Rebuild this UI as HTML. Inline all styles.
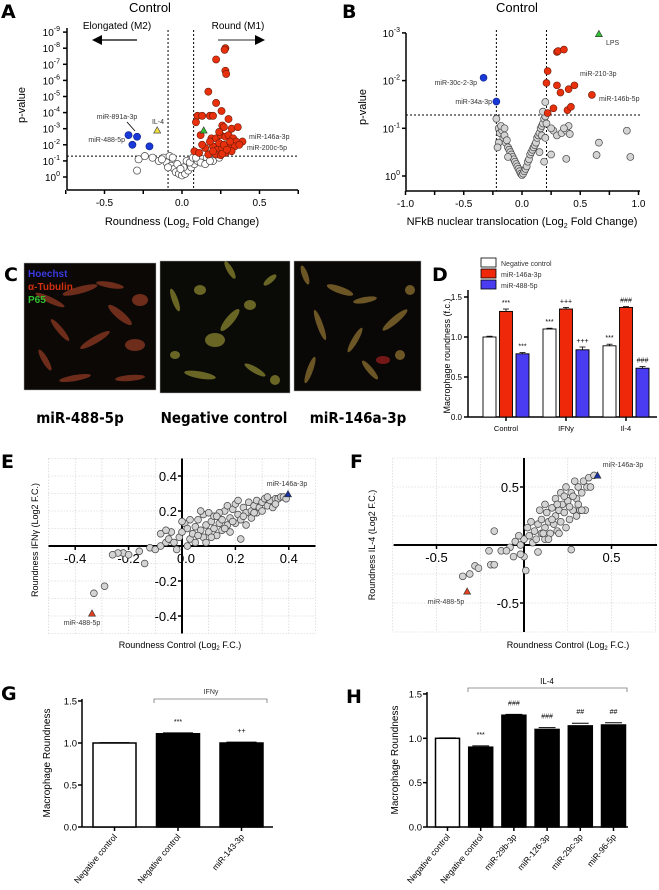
<!DOCTYPE html>
<html><head><meta charset="utf-8">
<style>
html,body{margin:0;padding:0;background:#fff;}
svg{display:block;font-family:"Liberation Sans",sans-serif;}
.pl{font-family:"DejaVu Sans","Liberation Sans",sans-serif;font-weight:bold;font-size:19px;}
.sm{font-size:7px;fill:#333;}
.tk{font-size:10px;}
.ttl{font-size:11px;}
</style></head>
<body>
<svg id="fig" width="659" height="890" viewBox="0 0 659 890" xmlns="http://www.w3.org/2000/svg">
<text class="pl" x="1" y="18">A</text>
<text class="pl" x="342" y="18">B</text>
<text class="pl" x="4" y="281">C</text>
<text class="pl" x="432" y="281">D</text>
<text class="pl" x="1" y="468">E</text>
<text class="pl" x="350" y="468">F</text>
<text class="pl" x="1" y="700">G</text>
<text class="pl" x="346" y="703">H</text>

<text x="150" y="12" font-size="13" text-anchor="middle">Control</text>
<text x="117" y="29" font-size="10" text-anchor="middle">Elongated (M2)</text>
<text x="238" y="29" font-size="10" text-anchor="middle">Round (M1)</text>
<line x1="137" y1="40" x2="100" y2="40" stroke="#000" stroke-width="1.2"/>
<polygon points="92,40 102,35 102,45" fill="#000"/>
<line x1="218" y1="40" x2="257" y2="40" stroke="#555" stroke-width="1.2"/>
<polygon points="265,40 255,35 255,45" fill="#000"/>
<text transform="translate(25,105) rotate(-90)" class="ttl" text-anchor="middle">p-value</text>
<text x="182" y="225" class="ttl" text-anchor="middle">Roundness (Log<tspan font-size="7" dy="3">2</tspan><tspan dy="-3"> Fold Change)</tspan></text>
<text x="117" y="119" class="sm" text-anchor="middle">miR-891a-3p</text>
<line x1="127" y1="122" x2="135" y2="131" stroke="#000" stroke-width="0.8"/>
<text x="125" y="142" class="sm" text-anchor="end">miR-488-5p</text>
<text x="158" y="124" class="sm" text-anchor="middle">IL-4</text>
<text x="249" y="139" class="sm">miR-146a-3p</text>
<text x="247" y="150" class="sm">miR-200c-5p</text>

<text x="517" y="12" font-size="13" text-anchor="middle">Control</text>
<text transform="translate(366,107) rotate(-90)" class="ttl" text-anchor="middle">p-value</text>
<text x="522" y="225" class="ttl" text-anchor="middle">NFkB nuclear translocation (Log<tspan font-size="7" dy="3">2</tspan><tspan dy="-3"> Fold Change)</tspan></text>
<text x="606" y="45" class="sm">LPS</text>
<text x="580" y="76" class="sm">miR-210-3p</text>
<text x="599" y="101" class="sm">miR-146b-5p</text>
<text x="477" y="85" class="sm" text-anchor="end">miR-30c-2-3p</text>
<text x="492" y="104" class="sm" text-anchor="end">miR-34a-3p</text>

<g>
<rect x="24" y="263" width="132" height="127" fill="#0b0806" stroke="#aaa" stroke-width="0.5"/>
<g fill="#b0462a" opacity="0.6">
<ellipse cx="50" cy="300" rx="16" ry="3" transform="rotate(25 50 300)"/>
<ellipse cx="80" cy="290" rx="18" ry="3.5" transform="rotate(-15 80 290)"/>
<ellipse cx="110" cy="285" rx="14" ry="3" transform="rotate(10 110 285)"/>
<ellipse cx="120" cy="315" rx="15" ry="4" transform="rotate(40 120 315)"/>
<ellipse cx="60" cy="330" rx="14" ry="3" transform="rotate(50 60 330)"/>
<ellipse cx="95" cy="340" rx="17" ry="3.5" transform="rotate(-30 95 340)"/>
<ellipse cx="135" cy="345" rx="10" ry="6"/>
<ellipse cx="130" cy="378" rx="15" ry="3" transform="rotate(-5 130 378)"/>
<ellipse cx="75" cy="378" rx="16" ry="3" transform="rotate(-10 75 378)"/>
<ellipse cx="140" cy="300" rx="8" ry="6"/>
<ellipse cx="45" cy="360" rx="12" ry="3" transform="rotate(60 45 360)"/>
</g>
<text x="28" y="277" font-size="10" font-weight="bold" fill="#3a3ae0">Hoechst</text>
<text x="28" y="290" font-size="10" font-weight="bold" fill="#d03010">α-Tubulin</text>
<text x="28" y="303" font-size="10" font-weight="bold" fill="#30c030">P65</text>
</g>
<g>
<rect x="160" y="261" width="130" height="132" fill="#0a0a06" stroke="#aaa" stroke-width="0.5"/>
<g fill="#a8a43a" opacity="0.6">
<ellipse cx="175" cy="300" rx="12" ry="3" transform="rotate(70 175 300)"/>
<ellipse cx="200" cy="290" rx="6" ry="5"/>
<ellipse cx="230" cy="270" rx="10" ry="3" transform="rotate(60 230 270)"/>
<ellipse cx="215" cy="340" rx="10" ry="7"/>
<ellipse cx="230" cy="320" rx="14" ry="4" transform="rotate(-50 230 320)"/>
<ellipse cx="250" cy="305" rx="6" ry="5"/>
<ellipse cx="200" cy="375" rx="16" ry="3.5" transform="rotate(10 200 375)"/>
<ellipse cx="255" cy="370" rx="12" ry="3" transform="rotate(30 255 370)"/>
<ellipse cx="275" cy="380" rx="5" ry="5"/>
<ellipse cx="270" cy="280" rx="8" ry="3" transform="rotate(-40 270 280)"/>
<ellipse cx="175" cy="355" rx="5" ry="4"/>
</g>
</g>
<g>
<rect x="294" y="261" width="127" height="130" fill="#0a0806" stroke="#aaa" stroke-width="0.5"/>
<g fill="#b08a3a" opacity="0.6">
<ellipse cx="340" cy="290" rx="14" ry="3.5" transform="rotate(20 340 290)"/>
<ellipse cx="365" cy="300" rx="12" ry="3" transform="rotate(-10 365 300)"/>
<ellipse cx="395" cy="320" rx="16" ry="3.5" transform="rotate(-40 395 320)"/>
<ellipse cx="320" cy="325" rx="16" ry="3" transform="rotate(70 320 325)"/>
<ellipse cx="355" cy="340" rx="14" ry="3" transform="rotate(-60 355 340)"/>
<ellipse cx="310" cy="370" rx="14" ry="3" transform="rotate(-70 310 370)"/>
<ellipse cx="370" cy="370" rx="12" ry="3" transform="rotate(50 370 370)"/>
<ellipse cx="410" cy="290" rx="5" ry="5"/>
<ellipse cx="400" cy="355" rx="5" ry="5"/>
<ellipse cx="305" cy="275" rx="10" ry="3" transform="rotate(70 305 275)"/>
</g>
<ellipse cx="383" cy="360" rx="7" ry="4" fill="#a02020" opacity="0.7"/>
</g>
<text x="80" y="423" font-size="15" font-weight="bold" text-anchor="middle" font-family="DejaVu Sans Condensed, Liberation Sans, sans-serif">miR-488-5p</text>
<text x="224" y="423" font-size="15" font-weight="bold" text-anchor="middle" font-family="DejaVu Sans Condensed, Liberation Sans, sans-serif">Negative control</text>
<text x="358" y="423" font-size="15" font-weight="bold" text-anchor="middle" font-family="DejaVu Sans Condensed, Liberation Sans, sans-serif">miR-146a-3p</text>

<rect x="481" y="258" width="15" height="9" fill="#fff" stroke="#000" stroke-width="0.8"/>
<rect x="481" y="269" width="15" height="9" fill="#f0280a" stroke="#000" stroke-width="0.8"/>
<rect x="481" y="280" width="15" height="9" fill="#4a3cf0" stroke="#000" stroke-width="0.8"/>
<text x="501" y="266" class="sm">Negative control</text>
<text x="501" y="277" class="sm">miR-146a-3p</text>
<text x="501" y="288" class="sm">miR-488-5p</text>
<text transform="translate(450,356) rotate(-90)" font-size="9" text-anchor="middle">Macrophage roundness (f.c.)</text>

<text transform="translate(38,540) rotate(-90)" font-size="9" text-anchor="middle">Roundness IFNγ (Log2 F.C.)</text>
<text x="180" y="648" font-size="9" text-anchor="middle">Roundness Control (Log<tspan font-size="6" dy="2">2</tspan><tspan dy="-2"> F.C.)</tspan></text>
<text x="287" y="486" class="sm" text-anchor="middle">miR-146a-3p</text>
<text x="82" y="625" class="sm" text-anchor="middle">miR-488-5p</text>
<text transform="translate(375,545) rotate(-90)" font-size="9" text-anchor="middle">Roundness IL-4 (Log2 F.C.)</text>
<text x="568" y="648" font-size="9" text-anchor="middle">Roundness Control (Log<tspan font-size="6" dy="2">2</tspan><tspan dy="-2"> F.C.)</tspan></text>
<text x="623" y="467" class="sm" text-anchor="middle">miR-146a-3p</text>
<text x="446" y="604" class="sm" text-anchor="middle">miR-488-5p</text>

<text transform="translate(50,763) rotate(-90)" font-size="10" text-anchor="middle">Macrophage Roundness</text>
<path d="M154,703 V699 H267 V703" fill="none" stroke="#777" stroke-width="0.8"/>
<text x="211" y="694" class="sm" text-anchor="middle">IFNy</text>
<text transform="translate(398,760) rotate(-90)" font-size="10" text-anchor="middle">Macrophage Roundness</text>
<path d="M468,692 V688 H627 V692" fill="none" stroke="#777" stroke-width="0.8"/>
<text x="547" y="684" font-size="8" text-anchor="middle">IL-4</text>
</svg>

<script>
const aRedX = [0.28,0.275,0.22,0.28,0.285,0.17,0.22,0.255,0.10,0.13,0.18,0.20,0.30,0.09,0.26,0.27,0.32,0.36,0.12,0.19,0.22,0.25,0.28,0.30,0.33,0.35,0.39,0.08,0.15,0.20,0.23,0.26,0.30,0.34,0.37,0.17,0.22,0.25,0.28,0.32,0.13,0.18,0.24,0.27,0.31,0.11,0.20,0.26,0.29,0.24];
const aRedY = [8.0,7.9,7.3,6.6,6.4,5.3,4.6,4.1,3.8,3.8,3.8,3.8,3.6,3.4,3.2,3.1,3.0,3.1,2.6,2.4,2.4,2.6,2.5,2.6,2.4,2.2,2.2,1.6,1.8,1.9,1.7,1.8,1.9,1.9,2.0,1.4,1.4,1.35,1.5,1.6,2.0,2.2,2.1,2.0,2.2,1.5,1.6,1.45,1.7,2.8];
const aWhiteX = [-0.28,-0.24,-0.29,-0.19,-0.15,-0.12,-0.08,-0.10,-0.07,-0.05,-0.04,-0.02,0.00,0.02,0.04,0.06,0.08,0.10,0.13,0.16,0.20,0.24,-0.06,-0.03,0.03,0.05,0.07,0.12,-0.13,0.01,-0.01,0.09,0.15,0.18,-0.09];
const aWhiteY = [1.1,1.3,0.4,1.2,1.0,1.2,1.3,0.9,0.7,0.5,0.3,0.2,0.1,0.2,0.4,0.6,0.8,1.0,1.1,1.2,1.0,1.2,1.2,0.8,1.0,0.9,1.2,0.9,1.1,0.6,0.5,1.2,0.8,1.0,0.6];
const aBlueX = [-0.345,-0.29,-0.32,-0.21];
const aBlueY = [2.6,2.5,2.0,1.9];
const aIL4 = [-0.16,2.9];
const aGreen = [0.14,2.9];
const aTickExp = [0,1,2,3,4,5,6,7,8,9];
const aXTicks = [-0.5,0.0,0.5];

const bRedX = [0.30,0.31,0.36,0.22,0.30,0.45,0.40,0.33,0.21,0.27,0.39,0.42,0.22,0.60];
const bRedY = [2.6,2.62,2.65,2.2,1.9,1.9,1.82,1.75,1.95,1.42,1.38,1.45,1.32,1.7];
const bGreyX = [-0.22,-0.2,-0.19,-0.17,-0.16,-0.15,-0.14,-0.13,-0.12,-0.11,-0.1,-0.09,-0.08,-0.07,-0.06,-0.05,-0.04,-0.03,-0.02,-0.01,0.0,0.01,0.02,0.03,0.04,0.05,0.06,0.07,0.08,0.09,0.1,0.11,0.12,0.13,0.14,0.15,0.16,0.17,0.18,0.19,0.2,0.21,0.2,-0.18,-0.2,-0.21,-0.12,0.15,0.19,0.27,0.30,0.34,0.38,0.41,0.40,0.25,0.36,0.38,0.66,0.64,0.90,0.93,0.25,0.17,-0.15,0.2,0.18];
const bGreyY = [1.2,1.0,0.9,0.95,0.8,0.85,0.7,0.75,0.6,0.55,0.5,0.45,0.4,0.35,0.3,0.25,0.2,0.15,0.1,0.05,0.02,0.05,0.1,0.15,0.2,0.3,0.35,0.45,0.5,0.55,0.6,0.65,0.7,0.8,0.85,0.9,1.0,1.05,1.1,1.2,1.25,1.1,1.55,1.05,0.7,0.6,0.4,0.5,0.3,0.95,0.85,0.9,0.95,0.88,1.05,1.0,1.0,0.36,0.7,0.44,0.95,0.4,0.45,0.85,1.0,0.8,1.35];
const bBlueX = [-0.33,-0.22];
const bBlueY = [2.06,1.56];
const bLPS = [0.66,2.98];
const bTickExp = [0,1,2,3];
const bXTicks = [-1.0,-0.5,0.0,0.5,1.0];

const dGroups = ['Control','IFNy','Il-4'];
const dNeg = [1.00,1.10,0.89];
const d146 = [1.32,1.35,1.37];
const d488 = [0.79,0.84,0.61];
const dNegErr = [0.01,0.01,0.02];
const d146Err = [0.03,0.02,0.01];
const d488Err = [0.015,0.035,0.02];
const dNegStars = ['','***','***'];
const d146Stars = ['***','+++','###'];
const d488Stars = ['***','+++','###'];
const dYTicks = [0.0,0.5,1.0,1.5];

const eX = [-0.33,-0.29,-0.22,-0.24,-0.26,-0.2,-0.14,-0.16,-0.12,-0.1,-0.08,-0.06,-0.05,-0.03,-0.02,-0.01,0,0.01,0.02,0.03,0.04,0.05,0.06,0.07,0.08,0.08,0.09,0.1,0.1,0.11,0.12,0.12,0.13,0.14,0.15,0.15,0.16,0.17,0.18,0.18,0.19,0.2,0.2,0.21,0.22,0.22,0.23,0.24,0.24,0.25,0.26,0.26,0.27,0.28,0.28,0.29,0.3,0.3,0.31,0.32,0.33,0.34,0.35,0.36,0.37,0.38,0.39,0.02,0.05,-0.04,0.03,0.07,0.11,0.14,0.17,0.21,0.06,0.09,0.13,0.16,0.19,0.23,0.27,0.32,0.35,-0.08,-0.06,0.0];
const eY = [-0.27,-0.23,-0.04,-0.04,-0.05,-0.05,-0.1,-0.03,-0.01,-0.02,0.0,0.02,0.04,0.02,-0.02,0.05,0.08,0.13,0.1,0.04,0.07,0.11,0.15,0.09,0.05,0.18,0.12,0.19,0.08,0.14,0.1,0.17,0.06,0.13,0.15,0.09,0.2,0.12,0.16,0.08,0.21,0.13,0.24,0.18,0.04,0.15,0.22,0.19,0.12,0.25,0.2,0.16,0.23,0.26,0.19,0.22,0.25,0.2,0.27,0.23,0.26,0.22,0.27,0.27,0.28,0.28,0.27,0.0,0.02,0.08,0.15,0.2,0.05,0.19,0.23,0.26,0.06,0.02,0.17,0.1,0.14,0.17,0.19,0.28,0.24,0.07,0.09,0.14];
const eTriRed = [-0.337,-0.385];
const eTriBlue = [0.397,0.297];
const eXTicks = [-0.4,-0.2,0.0,0.2,0.4];
const eYTicks = [-0.4,-0.2,0.2,0.4];

const fX = [-0.35,-0.31,-0.28,-0.26,-0.19,-0.17,-0.2,-0.13,-0.08,-0.1,-0.05,-0.02,0,0.01,-0.17,0,0.03,0.05,0.06,0.08,0.08,0.1,0.1,0.12,0.12,0.13,0.14,0.15,0.16,0.17,0.18,0.18,0.19,0.2,0.21,0.21,0.22,0.23,0.24,0.24,0.25,0.26,0.27,0.27,0.28,0.29,0.3,0.3,0.31,0.32,0.33,0.34,0.35,0.36,0.37,0.38,0.4,0.02,0.04,0.07,0.09,0.11,0.14,0.16,0.19,-0.03,-0.06,0.2,0.23,0.26,0.28,0.31,0.33,0.12,-0.02];
const fY = [-0.27,-0.25,-0.18,-0.2,-0.17,-0.17,-0.05,-0.05,-0.02,-0.05,0.03,0.0,-0.1,-0.22,0.12,0.05,0.08,0.02,0.12,0.18,-0.06,0.1,0.22,0.15,0.05,0.28,0.2,0.1,0.32,0.18,0.25,0.4,0.12,0.3,0.45,0.2,0.35,0.28,0.5,0.15,0.38,0.22,0.45,-0.04,0.3,0.55,0.4,0.25,0.5,0.3,0.45,0.55,0.3,0.5,0.58,0.5,0.6,0.15,0.2,0.05,0.3,0.1,0.05,0.22,0.35,0.08,-0.1,0.1,0.42,0.33,0.42,0.35,0.3,0.35,-0.08];
const fTriRed = [-0.325,-0.40];
const fTriBlue = [0.42,0.60];
const fXTicks = [-0.5,0.5];
const fYTicks = [-0.5,0.5];

const gCats = ['Negative control','Negative control','miR-143-3p'];
const gVals = [1.00,1.11,1.00];
const gErr = [0.005,0.01,0.01];
const gStars = ['','***','++'];
const gYTicks = [0.0,0.5,1.0,1.5];

const hCats = ['Negative control','Negative control','miR-29b-3p','miR-126-3p','miR-29c-3p','miR-96-5p'];
const hVals = [1.00,0.90,1.26,1.10,1.14,1.15];
const hErr = [0.005,0.015,0.01,0.02,0.03,0.025];
const hStars = ['','***','###','###','##','##'];
const hYTicks = [0.0,0.5,1.0,1.5];

const NS = 'http://www.w3.org/2000/svg';
const svg = document.getElementById('fig');
function mk(tag, attrs, name, txt){
  const e = document.createElementNS(NS, tag);
  for (const k in attrs) e.setAttribute(k, attrs[k]);
  
  
  if (txt !== undefined) e.textContent = txt;
  svg.appendChild(e);
  return e;
}
function line(x1,y1,x2,y2,name,st){ return mk('line',Object.assign({x1:x1,y1:y1,x2:x2,y2:y2,stroke:'#000','stroke-width':1.5},st||{}),name); }
function tri(cx,cy,s,fill,name){ return mk('polygon',{points:`${cx},${cy-s} ${cx-s},${cy+s*0.8} ${cx+s},${cy+s*0.8}`,fill:fill,stroke:'#333','stroke-width':0.6},name); }
function sup(x,y,n,name,anchor){
  const t = mk('text',{x:x,y:y,'font-size':10,'text-anchor':anchor||'end'},name);
  t.appendChild(document.createTextNode('10'));
  const s = document.createElementNS(NS,'tspan');
  s.setAttribute('font-size','7'); s.setAttribute('dy','-5');
  s.textContent = n===0 ? '0' : '-'+n;
  t.appendChild(s);
}

const ax = v => 182 + v*155;
const ay = v => 177 - v*16.1;
line(ax(-0.09),30,ax(-0.09),190,'a-threshold-left',{'stroke-dasharray':'2,2','stroke-width':1});
line(ax(0.075),30,ax(0.075),190,'a-threshold-right',{'stroke-dasharray':'2,2','stroke-width':1});
line(67,ay(1.3),298,ay(1.3),'a-threshold-p',{'stroke-dasharray':'2,2','stroke-width':1});
line(67,28,67,190,'a-y-axis');
line(67,190,298,190,'a-x-axis');
aTickExp.forEach(n=>{ line(63,ay(n),67,ay(n),'a-y-tick'); sup(60,ay(n)+4,n,'a-y-tick-label'); });
[-0.75,-0.25,0.25,0.75].forEach(v=>line(ax(v),190,ax(v),194,'a-x-minor-tick'));
aXTicks.forEach(v=>{ line(ax(v),190,ax(v),194,'a-x-tick'); mk('text',{x:ax(v),y:206,'font-size':10,'text-anchor':'middle'},'a-x-tick-label',v.toFixed(1)); });
aWhiteX.forEach((v,i)=>mk('circle',{cx:ax(v),cy:ay(aWhiteY[i]),r:3.6,fill:'#fff',stroke:'#444','stroke-width':0.7},'a-point-ns'));
aRedX.forEach((v,i)=>mk('circle',{cx:ax(v),cy:ay(aRedY[i]),r:3.6,fill:'#e8300c',stroke:'#6a1a08','stroke-width':0.6},'a-point-round'));
aBlueX.forEach((v,i)=>mk('circle',{cx:ax(v),cy:ay(aBlueY[i]),r:3.6,fill:'#1838d8',stroke:'#102080','stroke-width':0.6},'a-point-elongated'));
tri(ax(aIL4[0]),ay(aIL4[1]),3.5,'#f0e040','a-il4-triangle');
tri(ax(aGreen[0]),ay(aGreen[1]),3.5,'#30c030','a-positive-triangle');

const bx = v => 522 + v*116.5;
const by = v => 176 - v*47.7;
line(bx(-0.22),30,bx(-0.22),191,'b-threshold-left',{'stroke-dasharray':'2,2','stroke-width':1});
line(bx(0.21),30,bx(0.21),191,'b-threshold-right',{'stroke-dasharray':'2,2','stroke-width':1});
line(406,by(1.28),640,by(1.28),'b-threshold-p',{'stroke-dasharray':'2,2','stroke-width':1});
line(406,33,406,191,'b-y-axis');
line(406,191,640,191,'b-x-axis');
bTickExp.forEach(n=>{ line(402,by(n),406,by(n),'b-y-tick'); sup(400,by(n)+4,n,'b-y-tick-label'); });
[-0.75,-0.25,0.25,0.75].forEach(v=>line(bx(v),191,bx(v),195,'b-x-minor-tick'));
bXTicks.forEach(v=>{ line(bx(v),191,bx(v),195,'b-x-tick'); mk('text',{x:bx(v),y:207,'font-size':10,'text-anchor':'middle'},'b-x-tick-label',v.toFixed(1)); });
bGreyX.forEach((v,i)=>mk('circle',{cx:bx(v),cy:by(bGreyY[i]),r:3.5,fill:'#d4d4d4',stroke:'#444','stroke-width':0.7},'b-point-ns'));
bRedX.forEach((v,i)=>mk('circle',{cx:bx(v),cy:by(bRedY[i]),r:3.5,fill:'#e8300c',stroke:'#6a1a08','stroke-width':0.6},'b-point-up'));
bBlueX.forEach((v,i)=>mk('circle',{cx:bx(v),cy:by(bBlueY[i]),r:3.5,fill:'#1838d8',stroke:'#102080','stroke-width':0.6},'b-point-down'));
tri(bx(bLPS[0]),by(bLPS[1]),3.5,'#30c030','b-lps-triangle');

const dy = v => 417 - v*80;
const dCenter = i => 506 + i*60;
const bw = 13;
line(468,290,468,417,'d-y-axis');
line(468,417,657,417,'d-x-axis');
dYTicks.forEach(v=>{ line(464,dy(v),468,dy(v),'d-y-tick'); mk('text',{x:462,y:dy(v)+3,'font-size':8,'text-anchor':'end'},'d-y-tick-label',v.toFixed(1)); });
dGroups.forEach((g,i)=>{
  const c = dCenter(i);
  line(c,417,c,421,'d-x-tick');
  mk('text',{x:c,y:431,'font-size':7.5,'text-anchor':'middle'},'d-group-label',g);
  const sets = [[dNeg,dNegErr,dNegStars,'#fff',-16.5,'d-bar-negative'],[d146,d146Err,d146Stars,'#f0280a',0,'d-bar-146a'],[d488,d488Err,d488Stars,'#4a3cf0',16.5,'d-bar-488']];
  sets.forEach(s=>{
    const val=s[0][i], err=s[1][i], cx=c+s[4];
    mk('rect',{x:cx-bw/2,y:dy(val),width:bw,height:417-dy(val),fill:s[3],stroke:'#000','stroke-width':0.9},s[5]);
    line(cx,dy(val),cx,dy(val+err),'d-error-bar',{'stroke-width':0.8});
    line(cx-3,dy(val+err),cx+3,dy(val+err),'d-error-cap',{'stroke-width':0.8});
    if (s[2][i]) mk('text',{x:cx,y:dy(val+err)-4,'font-size':7,'text-anchor':'middle'},'d-significance',s[2][i]);
  });
});

const ex = v => 182 + v*267;
const ey = v => 546 - v*175;
for (let k=-5;k<=5;k++){ line(ex(k/10),ey(0.5),ex(k/10),ey(-0.5),'e-grid-v',{stroke:'#ccc','stroke-width':0.6,'stroke-dasharray':'1.5,1.5'}); line(ex(-0.5),ey(k/10),ex(0.5),ey(k/10),'e-grid-h',{stroke:'#ccc','stroke-width':0.6,'stroke-dasharray':'1.5,1.5'}); }
line(ex(0),ey(0.5),ex(0),ey(-0.5),'e-y-axis',{'stroke-width':2});
line(ex(-0.5),ey(0),ex(0.5),ey(0),'e-x-axis',{'stroke-width':2});
eXTicks.forEach(v=>{ line(ex(v),ey(0),ex(v),ey(0)+4,'e-x-tick'); mk('text',{x:ex(v)+(v===0?4:0),y:ey(0)+17,'font-size':13,'text-anchor':'middle'},'e-x-tick-label',v.toFixed(1)); });
eYTicks.forEach(v=>{ line(ex(0)-4,ey(v),ex(0),ey(v),'e-y-tick'); mk('text',{x:ex(0)-5,y:ey(v)+5,'font-size':13,'text-anchor':'end'},'e-y-tick-label',v.toFixed(1)); });
eX.forEach((v,i)=>mk('circle',{cx:ex(v),cy:ey(eY[i]),r:3.4,fill:'#d4d4d4',stroke:'#444','stroke-width':0.7},'e-point'));
tri(ex(eTriRed[0]),ey(eTriRed[1]),3.5,'#e04020','e-mir-488-triangle');
tri(ex(eTriBlue[0]),ey(eTriBlue[1]),3.5,'#1830a0','e-mir-146a-triangle');

const fx = v => 524 + v*175;
const fy = v => 545 - v*116;
for (let k=-3;k<=3;k++){ line(fx(k/4),fy(0.75),fx(k/4),fy(-0.75),'f-grid-v',{stroke:'#ccc','stroke-width':0.6,'stroke-dasharray':'1.5,1.5'}); line(fx(-0.745),fy(k/4),fx(0.76),fy(k/4),'f-grid-h',{stroke:'#ccc','stroke-width':0.6,'stroke-dasharray':'1.5,1.5'}); }
line(fx(0),fy(0.75),fx(0),fy(-0.75),'f-y-axis',{'stroke-width':2});
line(fx(-0.745),fy(0),fx(0.76),fy(0),'f-x-axis',{'stroke-width':2});
fXTicks.forEach(v=>{ line(fx(v),fy(0),fx(v),fy(0)+4,'f-x-tick'); mk('text',{x:fx(v),y:fy(0)+17,'font-size':13,'text-anchor':'middle'},'f-x-tick-label',v.toFixed(1)); });
fYTicks.forEach(v=>{ line(fx(0)-4,fy(v),fx(0),fy(v),'f-y-tick'); mk('text',{x:fx(0)-5,y:fy(v)+5,'font-size':13,'text-anchor':'end'},'f-y-tick-label',v.toFixed(1)); });
fX.forEach((v,i)=>mk('circle',{cx:fx(v),cy:fy(fY[i]),r:3.4,fill:'#d4d4d4',stroke:'#444','stroke-width':0.7},'f-point'));
tri(fx(fTriRed[0]),fy(fTriRed[1]),3.5,'#e04020','f-mir-488-triangle');
tri(fx(fTriBlue[0]),fy(fTriBlue[1]),3.5,'#1830a0','f-mir-146a-triangle');

function barChart(cats, vals, errs, stars, ticks, yAxisX, x0, step, w, scale, xEnd, pre){
  const yy = v => 827 - v*scale;
  line(yAxisX,yy(1.5)-2,yAxisX,827,pre+'-y-axis');
  line(yAxisX,827,xEnd,827,pre+'-x-axis');
  ticks.forEach(v=>{ line(yAxisX-4,yy(v),yAxisX,yy(v),pre+'-y-tick'); mk('text',{x:yAxisX-5,y:yy(v)+3.5,'font-size':9.5,'text-anchor':'end'},pre+'-y-tick-label',v.toFixed(1)); });
  cats.forEach((c,i)=>{
    const cx = x0 + i*step;
    mk('rect',{x:cx-w/2,y:yy(vals[i]),width:w,height:827-yy(vals[i]),fill:i===0?'#fff':'#000',stroke:'#000','stroke-width':1.5},pre+'-bar');
    line(cx-w*0.35,yy(vals[i]+errs[i]),cx+w*0.35,yy(vals[i]+errs[i]),pre+'-error-cap',{'stroke-width':1});
    line(cx,827,cx,831,pre+'-x-tick');
    mk('text',{x:cx+3,y:837,'font-size':8.5,'text-anchor':'end',transform:`rotate(-50 ${cx+3} 837)`},pre+'-x-label',c);
    if (stars[i]) mk('text',{x:cx,y:yy(vals[i]+errs[i])-9,'font-size':7,'text-anchor':'middle'},pre+'-significance',stars[i]);
  });
}
barChart(gCats,gVals,gErr,gStars,gYTicks,82,114.5,63.5,43,84,273,'g');
barChart(hCats,hVals,hErr,hStars,hYTicks,427,447.5,33.2,24,88.7,628,'h');
</script>
</body></html>
